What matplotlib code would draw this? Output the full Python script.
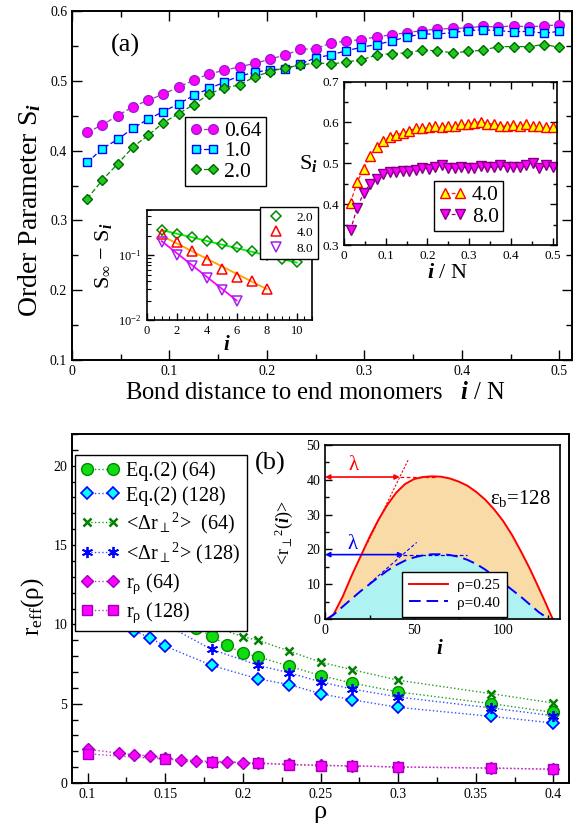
import numpy as np
import matplotlib
matplotlib.use('Agg')
import matplotlib.pyplot as plt
from matplotlib.ticker import MultipleLocator, FuncFormatter, LogLocator, NullFormatter
from matplotlib.lines import Line2D

plt.rcParams['font.family'] = ['Liberation Serif', 'DejaVu Serif']
plt.rcParams['mathtext.fontset'] = 'custom'
plt.rcParams['mathtext.rm'] = 'Liberation Serif'
plt.rcParams['mathtext.it'] = 'Liberation Serif:italic'
plt.rcParams['mathtext.bf'] = 'Liberation Serif:bold'
plt.rcParams['mathtext.bfit'] = 'Liberation Serif:italic:bold'

# ---------------- data: panel (a) ----------------
N_chain = 64
bond_index = list(range(1, 33))
S_064 = [0.426, 0.437, 0.450, 0.463, 0.472, 0.481, 0.491, 0.501, 0.510, 0.515, 0.520, 0.525,
         0.531, 0.537, 0.545, 0.546, 0.554, 0.557, 0.559, 0.563, 0.566, 0.569, 0.572, 0.574,
         0.575, 0.576, 0.578, 0.577, 0.579, 0.577, 0.579, 0.580]
S_10 = [0.383, 0.403, 0.416, 0.432, 0.445, 0.456, 0.467, 0.479, 0.489, 0.498, 0.507, 0.512,
        0.516, 0.517, 0.524, 0.533, 0.537, 0.543, 0.548, 0.552, 0.557, 0.563, 0.567, 0.567,
        0.569, 0.572, 0.573, 0.572, 0.570, 0.571, 0.568, 0.571]
S_20 = [0.331, 0.358, 0.381, 0.405, 0.422, 0.440, 0.453, 0.466, 0.481, 0.490, 0.494, 0.506,
        0.513, 0.519, 0.522, 0.526, 0.524, 0.527, 0.530, 0.537, 0.539, 0.540, 0.544, 0.543,
        0.540, 0.542, 0.544, 0.549, 0.549, 0.549, 0.552, 0.548]
S_40 = [0.403, 0.453, 0.486, 0.517, 0.540, 0.555, 0.565, 0.570, 0.574, 0.579, 0.586, 0.586,
        0.588, 0.590, 0.588, 0.591, 0.590, 0.595, 0.595, 0.599, 0.602, 0.597, 0.596, 0.591,
        0.591, 0.593, 0.590, 0.595, 0.590, 0.590, 0.588, 0.588]
S_80 = [0.336, 0.391, 0.426, 0.449, 0.461, 0.474, 0.478, 0.478, 0.480, 0.482, 0.484, 0.488,
        0.487, 0.490, 0.495, 0.488, 0.488, 0.492, 0.488, 0.488, 0.494, 0.492, 0.490, 0.495,
        0.490, 0.492, 0.492, 0.495, 0.500, 0.488, 0.495, 0.492]

# log inset
log_i_20 = [1, 2, 3, 4, 5, 6, 7, 8, 9, 10]
log_d_20 = [0.245, 0.215, 0.190, 0.169, 0.151, 0.133, 0.118, 0.100, 0.088, 0.078]
log_i_40 = [1, 2, 3, 4, 5, 6, 7, 8]
log_d_40 = [0.215, 0.159, 0.118, 0.0836, 0.0614, 0.0461, 0.0404, 0.030]
log_i_80 = [1, 2, 3, 4, 5, 6]
log_d_80 = [0.159, 0.100, 0.069, 0.0445, 0.0293, 0.020]
fit_i_20 = [1, 10]
fit_d_20 = [0.245, 0.077]
fit_i_40 = [1, 8]
fit_d_40 = [0.200, 0.030]
fit_i_80 = [1, 6]
fit_d_80 = [0.165, 0.020]

# ---------------- data: panel (b) ----------------
rho_eq64 = [0.15, 0.17, 0.18, 0.19, 0.20, 0.21, 0.23, 0.25, 0.27, 0.30, 0.36, 0.40]
r_eq64 = [10.6, 9.8, 9.24, 8.67, 8.18, 7.95, 7.36, 6.77, 6.31, 5.74, 5.00, 4.45]
rho_eq128 = [0.10, 0.12, 0.13, 0.14, 0.15, 0.18, 0.21, 0.23, 0.25, 0.27, 0.30, 0.36, 0.40]
r_eq128 = [11.2, 10.1, 9.6, 9.16, 8.63, 7.41, 6.56, 6.20, 5.63, 5.25, 4.77, 4.20, 3.78]
rho_dr64 = [0.15, 0.18, 0.20, 0.21, 0.23, 0.25, 0.27, 0.30, 0.36, 0.40]
r_dr64 = [11.2, 9.9, 9.22, 8.99, 8.31, 7.62, 7.15, 6.48, 5.63, 5.04]
rho_dr128 = [0.15, 0.18, 0.21, 0.23, 0.25, 0.27, 0.30, 0.36, 0.40]
r_dr128 = [10.0, 8.42, 7.42, 6.94, 6.38, 5.93, 5.42, 4.73, 4.24]
rho_rr64 = [0.10, 0.12, 0.13, 0.14, 0.15, 0.16, 0.17, 0.18, 0.19, 0.20, 0.21, 0.23, 0.25,
            0.27, 0.30, 0.36, 0.40]
r_rr64 = [2.13, 1.88, 1.77, 1.71, 1.56, 1.46, 1.41, 1.35, 1.35, 1.29, 1.25, 1.18, 1.12,
          1.08, 1.01, 0.95, 0.87]
rho_rr128 = [0.10, 0.15, 0.18, 0.21, 0.23, 0.25, 0.27, 0.30, 0.36, 0.40]
r_rr128 = [1.84, 1.50, 1.33, 1.25, 1.15, 1.10, 1.08, 1.01, 0.93, 0.87]

# inset (b) profiles
prof_i_025 = [2, 5, 10, 15, 20, 25, 30, 35, 40, 45, 50, 55, 60, 65, 70, 75, 80, 85, 90, 95,
              100, 105, 110, 115, 120, 124, 127, 128]
prof_r_025 = [0, 1.5, 6.5, 12.5, 18.0, 23.5, 28.5, 32.8, 36.3, 38.8, 40.2, 40.8, 41.0, 40.9,
              40.4, 39.5, 38.3, 36.5, 34.3, 31.5, 28.2, 24.2, 19.5, 14.5, 9.0, 4.5, 1.0, 0]
prof_i_040 = [1, 5, 10, 15, 20, 25, 30, 35, 40, 45, 50, 55, 60, 65, 70, 75, 80, 85, 90, 95,
              100, 105, 110, 115, 120, 124, 126]
prof_r_040 = [0, 1.3, 3.6, 5.8, 8.0, 10.0, 12.0, 13.9, 15.5, 16.8, 17.7, 18.3, 18.6, 18.6,
              18.4, 17.9, 17.0, 15.8, 14.2, 12.3, 10.4, 8.4, 6.4, 4.2, 2.0, 0.6, 0]
tan_i_025 = [24, 47]
tan_r_025 = [22.0, 46.0]
tan_i_040 = [25, 51.5]
tan_r_040 = [10.2, 22.0]
lam_025 = [42.0, 40.8]   # arrow end, level
lam_040 = [44.0, 18.5]

# ---------------- figure ----------------
W, H = 579, 827
fig = plt.figure(figsize=(W / 100, H / 100), dpi=100)


def ax_at(l, t, r, b):
    return fig.add_axes([l / W, 1 - b / H, (r - l) / W, (b - t) / H])


def fx(x):
    return x / W


def fy(y):
    return 1 - y / H


gfmt = FuncFormatter(lambda v, p: '0' if abs(v) < 1e-12 else ('%g' % v))

# ---- panel (a) main ----
ax1 = ax_at(72, 11, 572, 360)
xN = [k / N_chain for k in bond_index]
ax1.plot(xN, S_064, ls='--', dashes=(4, 2), lw=0.9, color='#a030c0', marker='o', ms=7,
         mfc='#ff00ff', mec='#9a20d0', mew=1.0, label='0.64')
ax1.plot(xN, S_10, ls='--', dashes=(4, 2), lw=0.9, color='#0000ff', marker='s', ms=6,
         mfc='#00ffff', mec='#0000ff', mew=1.0, label='1.0')
ax1.plot(xN, S_20, ls='--', dashes=(4, 2), lw=0.9, color='#008800', marker='D', ms=5.5,
         mfc='#20c820', mec='#006600', mew=1.0, label='2.0')
ax1.set_xlim(0, 0.513)
ax1.set_ylim(0.1, 0.6)
ax1.xaxis.set_major_locator(MultipleLocator(0.1))
ax1.xaxis.set_minor_locator(MultipleLocator(0.05))
ax1.yaxis.set_major_locator(MultipleLocator(0.1))
ax1.yaxis.set_minor_locator(MultipleLocator(0.05))
ax1.xaxis.set_major_formatter(gfmt)
ax1.yaxis.set_major_formatter(gfmt)
ax1.tick_params(which='both', direction='in', top=True, right=True, labelsize=10)
ax1.tick_params(which='major', length=7, width=1)
ax1.tick_params(which='minor', length=4, width=1)
for s in ax1.spines.values():
    s.set_linewidth(1.4)
leg1 = ax1.legend(loc='upper left', bbox_to_anchor=(fx(185), fy(117)), bbox_transform=fig.transFigure,
                  fontsize=15.5, frameon=True, fancybox=False, edgecolor='black', framealpha=1,
                  borderaxespad=0, handlelength=1.4, handletextpad=0.2, labelspacing=0.0,
                  borderpad=0.2, numpoints=2)
leg1.get_frame().set_linewidth(1.0)
fig.text(fx(125), fy(45), '(a)', fontsize=19, ha='center', va='center')
fig.text(fx(315), fy(393), r'Bond distance to end monomers   $\mathbfit{i}$ / N', fontsize=17.7,
         ha='center', va='center')
fig.text(fx(30), fy(210), r'Order Parameter S$_{\mathbfit{i}}$', fontsize=20, rotation=90,
         ha='center', va='center')

# ---- inset (a) right ----
ax2 = ax_at(344, 81.5, 556.7, 245)
ax2.plot(xN, S_40, ls='--', dashes=(3, 2), lw=0.9, color='#ff2020', marker='^', ms=6.5,
         mfc='#ffff00', mec='#ff0000', mew=1.0, label='4.0')
ax2.plot(xN, S_80, ls='--', dashes=(3, 2), lw=0.9, color='#990060', marker='v', ms=6.5,
         mfc='#ff00ff', mec='#800080', mew=1.0, label='8.0')
ax2.set_xlim(0, 0.51)
ax2.set_ylim(0.3, 0.7)
ax2.xaxis.set_major_locator(MultipleLocator(0.1))
ax2.xaxis.set_minor_locator(MultipleLocator(0.05))
ax2.yaxis.set_major_locator(MultipleLocator(0.1))
ax2.yaxis.set_minor_locator(MultipleLocator(0.05))
ax2.xaxis.set_major_formatter(gfmt)
ax2.yaxis.set_major_formatter(gfmt)
ax2.tick_params(which='both', direction='in', top=True, right=True, labelsize=9.5)
ax2.tick_params(which='major', length=5, width=1)
ax2.tick_params(which='minor', length=3, width=1)
for s in ax2.spines.values():
    s.set_linewidth(1.2)
leg2 = ax2.legend(loc='upper left', bbox_to_anchor=(fx(434), fy(181)), bbox_transform=fig.transFigure,
                  fontsize=15.5, frameon=True, fancybox=False, edgecolor='black', framealpha=1,
                  borderaxespad=0, handlelength=1.3, handletextpad=0.25, labelspacing=0.05,
                  borderpad=0.2, numpoints=2)
leg2.get_frame().set_linewidth(1.0)
fig.text(fx(308), fy(163), r'S$_{\mathbfit{i}}$', fontsize=16, ha='center', va='center')
fig.text(fx(447), fy(274), r'$\mathbfit{i}$ / N', fontsize=16, ha='center', va='center')

# ---- inset (a) log ----
ax3 = ax_at(146.7, 210, 311.7, 320)
ax3.set_yscale('log')
ax3.plot(fit_i_20, fit_d_20, color='#00ee00', lw=1.3)
ax3.plot(fit_i_40, fit_d_40, color='#ffa500', lw=1.3)
ax3.plot(fit_i_80, fit_d_80, color='#ff00ff', lw=1.3)
ax3.plot(log_i_20, log_d_20, ls='none', marker='D', ms=5, mfc='none', mec='#008800', mew=1.1)
ax3.plot(log_i_40, log_d_40, ls='none', marker='^', ms=6.5, mfc='none', mec='#ff0000', mew=1.1)
ax3.plot(log_i_80, log_d_80, ls='none', marker='v', ms=6.5, mfc='none', mec='#a020f0', mew=1.1)
ax3.set_xlim(0, 11)
ax3.set_ylim(0.01, 0.5)
ax3.xaxis.set_major_locator(MultipleLocator(2))
ax3.xaxis.set_minor_locator(MultipleLocator(0.5))
ax3.yaxis.set_major_locator(LogLocator(base=10))
ax3.yaxis.set_minor_locator(LogLocator(base=10, subs=np.arange(2, 10)))
ax3.yaxis.set_minor_formatter(NullFormatter())
ax3.tick_params(which='both', direction='in', labelsize=9)
ax3.tick_params(which='major', length=5, width=1)
ax3.tick_params(which='minor', length=3, width=0.8)
for s in ax3.spines.values():
    s.set_linewidth(1.2)
h3 = [Line2D([], [], ls='none', marker='D', ms=5, mfc='none', mec='#008800', mew=1.1),
      Line2D([], [], ls='none', marker='^', ms=6.5, mfc='none', mec='#ff0000', mew=1.1),
      Line2D([], [], ls='none', marker='v', ms=6.5, mfc='none', mec='#a020f0', mew=1.1)]
leg3 = fig.legend(h3, ['2.0', '4.0', '8.0'], loc='upper left', bbox_to_anchor=(fx(260), fy(206.7)),
                  fontsize=9.5, frameon=True, fancybox=False, edgecolor='black', framealpha=1,
                  borderaxespad=0, handlelength=1.8, handletextpad=0.6, labelspacing=0.25,
                  borderpad=0.35, numpoints=1)
leg3.get_frame().set_linewidth(1.0)
fig.text(fx(103), fy(256), r'S$_\infty$ $-$ S$_{\mathbfit{i}}$', fontsize=16, rotation=90,
         ha='center', va='center')
fig.text(fx(227), fy(346), r'$\mathbfit{i}$', fontsize=15, ha='center', va='center')

# ---- panel (b) main ----
ax4 = ax_at(72, 434, 569, 783)
ax4.plot(rho_eq64, r_eq64, ls=':', lw=1.0, color='#20a020', marker='o', ms=8.5,
         mfc='#10dd10', mec='#008800', mew=1.0, label='Eq.(2) (64)')
ax4.plot(rho_eq128, r_eq128, ls=':', lw=1.0, color='#3050ff', marker='D', ms=6.5,
         mfc='#00ffff', mec='#0000ff', mew=1.2, label='Eq.(2) (128)')
ax4.plot(rho_dr64, r_dr64, ls=':', lw=1.0, color='#20a020', marker='x', ms=5.5,
         mec='#008000', mew=1.8, label=r'<$\Delta$r$_\perp$$^{2}$>  (64)')
ax4.plot(rho_dr128, r_dr128, ls=':', lw=1.0, color='#3050ff', marker=(6, 2, 0), ms=8,
         mec='#0000ff', mew=1.3, label=r'<$\Delta$r$_\perp$$^{2}$> (128)')
ax4.plot(rho_rr64, r_rr64, ls=':', lw=1.0, color='#cc30cc', marker='D', ms=6.5,
         mfc='#ff00ff', mec='#a000c0', mew=1.0, label=r'r$_{\mathrm{\rho}}$ (64)')
ax4.plot(rho_rr128, r_rr128, ls=':', lw=1.0, color='#cc30cc', marker='s', ms=7,
         mfc='#ff00ff', mec='#a000c0', mew=1.0, label=r'r$_{\mathrm{\rho}}$ (128)')
ax4.set_xlim(0.09, 0.41)
ax4.set_ylim(0, 22)
ax4.xaxis.set_major_locator(MultipleLocator(0.05))
ax4.xaxis.set_minor_locator(MultipleLocator(0.025))
ax4.yaxis.set_major_locator(MultipleLocator(5))
ax4.yaxis.set_minor_locator(MultipleLocator(1))
ax4.xaxis.set_major_formatter(gfmt)
ax4.yaxis.set_major_formatter(gfmt)
ax4.tick_params(which='both', direction='in', labelsize=10)
ax4.tick_params(which='major', length=7, width=1)
ax4.tick_params(which='minor', length=4, width=1)
for s in ax4.spines.values():
    s.set_linewidth(1.4)
leg4 = ax4.legend(loc='upper left', bbox_to_anchor=(fx(75), fy(455)), bbox_transform=fig.transFigure,
                  fontsize=14.5, frameon=True, fancybox=False, edgecolor='black', framealpha=1,
                  borderaxespad=0, handlelength=1.9, handletextpad=0.35, labelspacing=0.25,
                  borderpad=0.3, numpoints=2)
leg4.get_frame().set_linewidth(1.0)
fig.text(fx(270), fy(463), '(b)', fontsize=19, ha='center', va='center')
fig.text(fx(320), fy(812), 'ρ', fontsize=19, ha='center', va='center')
fig.text(fx(33), fy(607), r'r$_{\mathrm{eff}}$(ρ)', fontsize=18, rotation=90,
         ha='center', va='center')

# ---- inset (b) ----
ax5 = ax_at(325, 445, 560, 619)
ax5.fill_between(prof_i_025, prof_r_025, 0, color='#f9dba8', lw=0)
ax5.fill_between(prof_i_040, prof_r_040, 0, color='#aff2f2', lw=0)
ax5.plot(prof_i_025, prof_r_025, color='#ff0000', lw=1.4, label='ρ=0.25')
ax5.plot(prof_i_040, prof_r_040, color='#0000ff', lw=1.4, ls='--', dashes=(6, 3), label='ρ=0.40')
ax5.plot(tan_i_025, tan_r_025, color='#ff0000', lw=0.8, ls='--', dashes=(2, 1.5))
ax5.plot(tan_i_040, tan_r_040, color='#0000ff', lw=0.8, ls='--', dashes=(3, 2))
ax5.annotate('', xy=(lam_025[0], lam_025[1]), xytext=(0, lam_025[1]),
             arrowprops=dict(arrowstyle='<|-|>', color='#ff0000', lw=1.2, mutation_scale=7,
                             shrinkA=0, shrinkB=0))
ax5.plot([lam_025[0], 62], [lam_025[1], lam_025[1]], color='#ff0000', lw=0.9, ls='--', dashes=(3, 2))
ax5.annotate('', xy=(lam_040[0], lam_040[1]), xytext=(0, lam_040[1]),
             arrowprops=dict(arrowstyle='<|-|>', color='#0000ff', lw=1.2, mutation_scale=7,
                             shrinkA=0, shrinkB=0))
ax5.plot([lam_040[0], 80], [lam_040[1], lam_040[1]], color='#0000ff', lw=0.9, ls='--', dashes=(3, 2))
ax5.text(16, 44, 'λ', color='#ff0000', fontsize=15, ha='center', va='center')
ax5.text(15.5, 21.5, 'λ', color='#0000ff', fontsize=15, ha='center', va='center')
ax5.text(110, 34.5, r'ε$_{\mathrm{b}}$=128', fontsize=15, ha='center', va='center')
ax5.set_xlim(0, 132)
ax5.set_ylim(0, 50)
ax5.xaxis.set_major_locator(MultipleLocator(50))
ax5.xaxis.set_minor_locator(MultipleLocator(25))
ax5.yaxis.set_major_locator(MultipleLocator(10))
ax5.yaxis.set_minor_locator(MultipleLocator(5))
ax5.tick_params(which='both', direction='in', labelsize=10)
ax5.tick_params(which='major', length=5, width=1)
ax5.tick_params(which='minor', length=3, width=1)
for s in ax5.spines.values():
    s.set_linewidth(1.2)
leg5 = ax5.legend(loc='upper left', bbox_to_anchor=(fx(401.7), fy(571.7)), bbox_transform=fig.transFigure,
                  fontsize=11, frameon=True, fancybox=False, edgecolor='black', framealpha=1,
                  borderaxespad=0, handlelength=2.6, handletextpad=0.6, labelspacing=0.25,
                  borderpad=0.45)
leg5.get_frame().set_linewidth(1.0)
fig.text(fx(284), fy(533), r'<r$_\perp$$^{2}$($\mathbfit{i}$)>', fontsize=13, rotation=90,
         ha='center', va='center')
fig.text(fx(440), fy(650), r'$\mathbfit{i}$', fontsize=15, ha='center', va='center')

fig.savefig('out.png', dpi=100)
